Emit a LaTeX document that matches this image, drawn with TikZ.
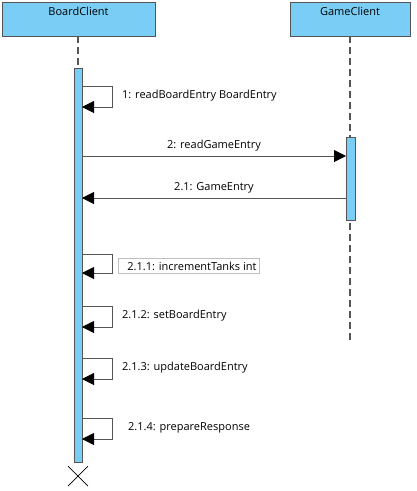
\documentclass[tikz,border=0pt]{standalone}
\usepackage{fontspec}
\setmainfont{Open Sans}
\usetikzlibrary{arrows.meta,calc,positioning}
\definecolor{actblue}{RGB}{122,206,245}
\definecolor{linegray}{RGB}{85,85,85}

\begin{document}
\begin{tikzpicture}[x=1pt, y=-1pt,
    every node/.style={font=\fontsize{11}{13}\selectfont},
    objbox/.style={draw=linegray, fill=actblue, line width=1pt},
    actbar/.style={draw=linegray, fill=actblue, line width=1pt},
    life/.style={draw=linegray, dashed, dash pattern=on 7pt off 4pt, line width=1.2pt},
    msg/.style={draw=linegray, line width=1pt, -{Triangle[length=12pt, width=12pt, color=black, fill=black]}},
    lbl/.style={inner sep=1pt, anchor=west}]
\useasboundingbox (0,0) rectangle (416,491);
%%%%%%%%%%%%%%%%% objects
\draw[objbox] (2,2) rectangle (155,36);
\node (board) at (78.5,11) {BoardClient};
\draw[objbox] (290,2) rectangle (410,36);
\node (game) at (350,11) {GameClient};
%%%%%%%%%%%%%%%%% lifelines
\coordinate (boardtop) at (78,36);
\coordinate (boardact) at (78,68);
\coordinate (gametop) at (350,36);
\coordinate (gameend) at (350,342);
\draw[life] (boardtop) -- (boardact);
\draw[life] (gametop) -- (gameend);
\draw[actbar] (74,68) rectangle (82,462);
\draw[actbar] (346,137) rectangle (355,220);
%%%%%%%%%%%%%%%%% self messages
\foreach \top/\txt/\lx in {86/{1: readBoardEntry BoardEntry}/121,
                           306/{2.1.2: setBoardEntry}/121,
                           358/{2.1.3: updateBoardEntry}/121,
                           418/{2.1.4: prepareResponse}/127}{
  \draw[msg] (82,\top) -- (112,\top) -- (112,\top+21) -- (82,\top+21);
  \node[lbl] at (\lx,\top+10) {\txt};
}
\draw[msg] (82,254) -- (112,254) -- (112,273) -- (82,273);
\node[lbl, draw=gray!50, line width=0.8pt, minimum height=15pt, inner xsep=3pt] (incr) at (118,266) {\hspace*{6pt}2.1.1: incrementTanks int};
%%%%%%%%%%%%%%%%% messages
\coordinate (readfrom) at (82,156);
\coordinate (readto) at (346,156);
\draw[msg] (readfrom) -- node[above=1pt] {2: readGameEntry} (readto);
\coordinate (retfrom) at (346,198);
\coordinate (retto) at (82,198);
\draw[msg] (retfrom) -- node[above=1pt] {2.1: GameEntry} (retto);
%%%%%%%%%%%%%%%%% destroy
\coordinate (kill) at (78,476);
\draw[line width=0.7pt] ($(kill)+(-10,-10)$) -- ($(kill)+(10,10)$)
                        ($(kill)+(-10,10)$) -- ($(kill)+(10,-10)$);
\end{tikzpicture}
\end{document}
